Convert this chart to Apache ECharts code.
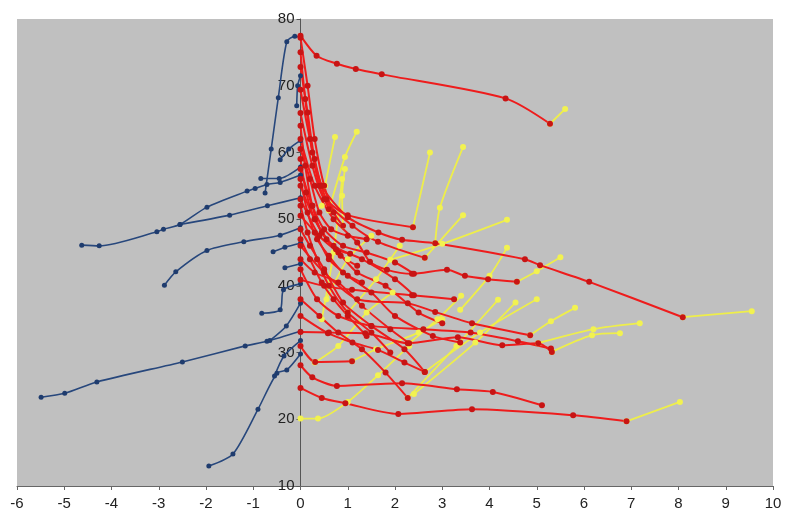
<!DOCTYPE html>
<html>
<head>
<meta charset="utf-8">
<script src="https://cdn.jsdelivr.net/npm/echarts@6/dist/echarts.min.js"></script>
<style>
html,body{margin:0;padding:0;background:#fff;}
#chart{width:788px;height:521px;}
</style>
</head>
<body>
<div id="chart"></div>
<script>
// Axis settings
const xTicks = [-6,-5,-4,-3,-2,-1,0,1,2,3,4,5,6,7,8,9,10];
const yTicks = [10,20,30,40,50,60,70,80];

// Blue lines (left of zero)
const blueLines = [
  [[0,77.3],[-0.12,77.4],[-0.29,76.6],[-0.47,68.2],[-0.62,60.5],[-0.75,53.9]],
  [[0,71.5],[-0.06,70],[-0.08,67]],
  [[0,61.8],[-0.25,60.5],[-0.43,58.9]],
  [[-0.84,56.1],[-0.45,56.1],[0,57.8]],
  [[-4.63,46.1],[-4.26,46.0],[-3.04,48.1],[-2.9,48.5],[-2.55,49.2],[-1.98,51.8],[-1.13,54.2],[-0.96,54.6],[-0.71,55.2],[-0.43,55.5],[0,56.6]],
  [[-2.55,49.2],[-1.5,50.6],[-0.7,52],[0,53.2]],
  [[-2.88,40.1],[-2.64,42.1],[-1.98,45.3],[-1.2,46.6],[-0.43,47.6],[0,48.7]],
  [[-0.58,45.1],[-0.33,45.8],[0,46.4]],
  [[-0.33,42.7],[0,43.3]],
  [[-0.82,35.9],[-0.43,36.4],[-0.36,39.4],[0,40.3]],
  [[-5.49,23.3],[-4.99,23.9],[-4.31,25.6],[-2.5,28.6],[-1.17,31],[-0.71,31.7],[0,33.2]],
  [[-0.65,31.8],[-0.3,34],[0,37.4]],
  [[-1.94,13],[-1.43,14.8],[-0.9,21.5],[-0.5,26.9],[-0.29,27.4],[0,29.8]],
  [[-0.55,26.5],[-0.35,29.5],[0,31.8]]
];

// Red lines (right of zero)
const redLines = [
  [[0,77.5],[0.34,74.5],[0.77,73.3],[1.17,72.5],[1.72,71.7],[4.34,68.1],[5.28,64.3]],
  [[0,77.2],[0.15,70],[0.3,62],[0.5,55],[0.7,51],[0.9,49]],
  [[0,72.8],[0.15,66],[0.3,59],[0.55,53],[1.0,50.6],[2.38,48.8]],
  [[0,69.4],[0.2,62],[0.45,55],[1.0,50.3],[1.65,48],[2.15,46.9],[2.85,46.4],[4.75,44],[5.07,43.1],[6.11,40.6],[8.09,35.3]],
  [[0,65.9],[0.25,58],[0.5,53],[1.1,49],[1.64,46.6],[2.63,44.2]],
  [[0,62],[0.3,55],[0.7,50],[1.2,46.5],[1.47,43.6],[1.83,42.4],[2.36,41.8],[3.1,42.4],[3.48,41.5],[3.97,41],[4.58,40.6]],
  [[0,57.5],[0.25,52],[0.5,48.5],[0.9,46],[1.4,45],[2.0,43.5],[2.4,41.8]],
  [[0,55],[0.3,50],[0.7,46],[1.3,44],[2.0,41],[2.4,38.6]],
  [[0,53],[0.4,47.5],[0.8,45],[1.2,42],[1.8,40],[2.5,36],[3.0,34.4]],
  [[0,50.5],[0.3,48],[0.6,44],[1.0,41.5],[1.5,39],[2.0,35.5],[2.8,32.5],[3.38,31.5]],
  [[0,48.5],[0.2,46],[0.5,42.5],[0.9,37.5],[1.5,34],[2.2,30.5],[2.63,27.1]],
  [[0,46],[0.5,42],[1.2,38],[2.27,37.4],[2.85,36.1],[3.63,34.4],[4.86,32.6]],
  [[0,44],[0.3,42],[0.8,40.5],[1.3,37],[1.9,33.5],[2.3,31.4]],
  [[0,40.9],[0.5,40],[1.09,39.4],[2.36,38.6],[3.25,38]],
  [[0,38],[0.4,35.5],[0.8,33],[1.3,30.5],[1.8,27],[2.27,23.2]],
  [[0,35.5],[0.58,32.9],[1.1,31.5],[1.64,30.4],[2.2,28.5],[2.63,27.1]],
  [[0,33.1],[0.6,33],[1.37,32.9],[2.27,31.4],[3.33,32.3],[4.27,31.1],[5.03,31.4],[5.32,30.1]],
  [[0,31],[0.31,28.6],[1.09,28.7]],
  [[0,28.1],[0.25,26.3],[0.77,25],[2.15,25.4],[3.31,24.5],[4.07,24.1],[5.11,22.1]],
  [[0,24.7],[0.45,23.2],[0.95,22.4],[2.07,20.8],[3.63,21.5],[5.77,20.6],[6.9,19.7]],
  [[0,42.5],[0.35,38],[0.8,35.5],[1.5,34],[2.6,33.5],[3.6,33],[4.6,31.7],[5.3,30.6]],
  [[0,52],[0.15,48],[0.35,44],[0.6,40],[1.0,36],[1.5,33],[1.9,30]],
  [[0,75],[0.1,68],[0.25,60],[0.4,55],[0.6,51.5]],
  [[0,59],[0.12,54],[0.3,50],[0.55,47],[0.85,44.5],[1.2,43]],
  [[0,64],[0.1,58],[0.25,52],[0.45,48],[0.75,45.5],[1.05,44.8]],
  [[0,60.5],[0.2,56],[0.4,51],[0.65,48.5],[1.0,47.5],[1.4,47]],
  [[0,56],[0.15,51],[0.35,47],[0.6,44.5],[0.9,42],[1.3,40.5]],
  [[0,47],[0.2,44],[0.45,40.5],[0.7,38],[1.0,35.5],[1.4,32.5]]
];

// Yellow continuation lines
const yellowLines = [
  [[5.28,64.3],[5.6,66.5]],
  [[0.45,52],[0.52,55],[0.73,62.3]],
  [[0.6,51.3],[0.94,59.3],[1.19,63.1]],
  [[0.9,49],[0.88,53.5],[0.94,57.5]],
  [[2.38,48.8],[2.74,60]],
  [[2.85,46.4],[2.95,51.7],[3.44,60.8]],
  [[2.63,44.2],[3.44,50.6]],
  [[1.9,43.9],[3.0,46.3],[4.37,49.9]],
  [[4.58,40.6],[5.0,42.2],[5.5,44.3]],
  [[3.38,36.4],[4.0,41.5],[4.37,45.7]],
  [[4.86,32.6],[5.3,34.7],[5.81,36.7]],
  [[5.32,30.1],[6.17,32.6],[6.76,32.9]],
  [[5.03,31.4],[6.2,33.5],[7.18,34.4]],
  [[8.09,35.3],[9.55,36.2]],
  [[6.9,19.7],[8.03,22.6]],
  [[0,20.1],[0.37,20.1],[1.0,22.6],[1.64,26.6],[2.3,31]],
  [[2.27,23.2],[3.3,31],[4.18,37.9]],
  [[2.4,23.8],[3.7,31.5],[4.55,37.5]],
  [[2.63,27.1],[3.8,33],[5.0,38]],
  [[0.45,35],[0.7,45],[0.88,56]],
  [[0.55,38],[1.0,44],[1.5,47.5]],
  [[1.0,36],[1.6,41],[2.1,46]],
  [[0.3,28.5],[0.8,31],[1.4,36],[1.95,39]],
  [[1.09,28.7],[1.6,30.5],[2.5,33],[3.0,35]],
  [[2.3,31.4],[2.9,35],[3.4,38.5]]
];

function mk(lines, color, markColor, size, width) {
  return lines.map(pts => ({
    type: 'line',
    data: pts,
    smooth: 0.25,
    symbol: 'circle',
    symbolSize: size,
    showSymbol: true,
    lineStyle: { color: color, width: width },
    itemStyle: { color: markColor, borderWidth: 0 },
    silent: true,
    animation: false
  }));
}

const chart = echarts.init(document.getElementById('chart'), null, { renderer: 'canvas' });
const labelFont = { fontFamily: 'Liberation Sans, Arial, sans-serif', fontSize: 15, color: '#222' };
const gridLeft = 17, gridRight = 15;
const plotW = 788 - gridLeft - gridRight;
const xMin = xTicks[0], xMax = xTicks[xTicks.length - 1];
const zeroOffset = plotW * (0 - xMin) / (xMax - xMin);

chart.setOption({
  backgroundColor: '#ffffff',
  animation: false,
  grid: {
    left: gridLeft, right: gridRight, top: 19, bottom: 35,
    containLabel: false, outerBoundsMode: 'none',
    show: true, backgroundColor: '#c0c0c0', borderWidth: 0
  },
  xAxis: {
    type: 'value',
    min: xMin, max: xMax, interval: 1,
    splitLine: { show: false },
    axisLine: { onZero: false, lineStyle: { color: '#666', width: 1 } },
    axisTick: { show: true, length: 4, lineStyle: { color: '#666' } },
    axisLabel: Object.assign({ margin: 10 }, labelFont)
  },
  yAxis: {
    type: 'value',
    min: yTicks[0], max: yTicks[yTicks.length - 1], interval: 10,
    offset: -zeroOffset,
    splitLine: { show: false },
    axisLine: { onZero: false, lineStyle: { color: '#555', width: 1 } },
    axisTick: { show: true, length: 4, lineStyle: { color: '#555' } },
    axisLabel: Object.assign({ margin: 6 }, labelFont)
  },
  series: [].concat(
    mk(blueLines, '#27477c', '#1f3c6e', 5, 1.6),
    mk(yellowLines, '#eeee4a', '#f2f250', 6, 1.8),
    mk(redLines, '#ee1c1c', '#c81414', 6, 2)
  )
});
</script>
</body>
</html>
